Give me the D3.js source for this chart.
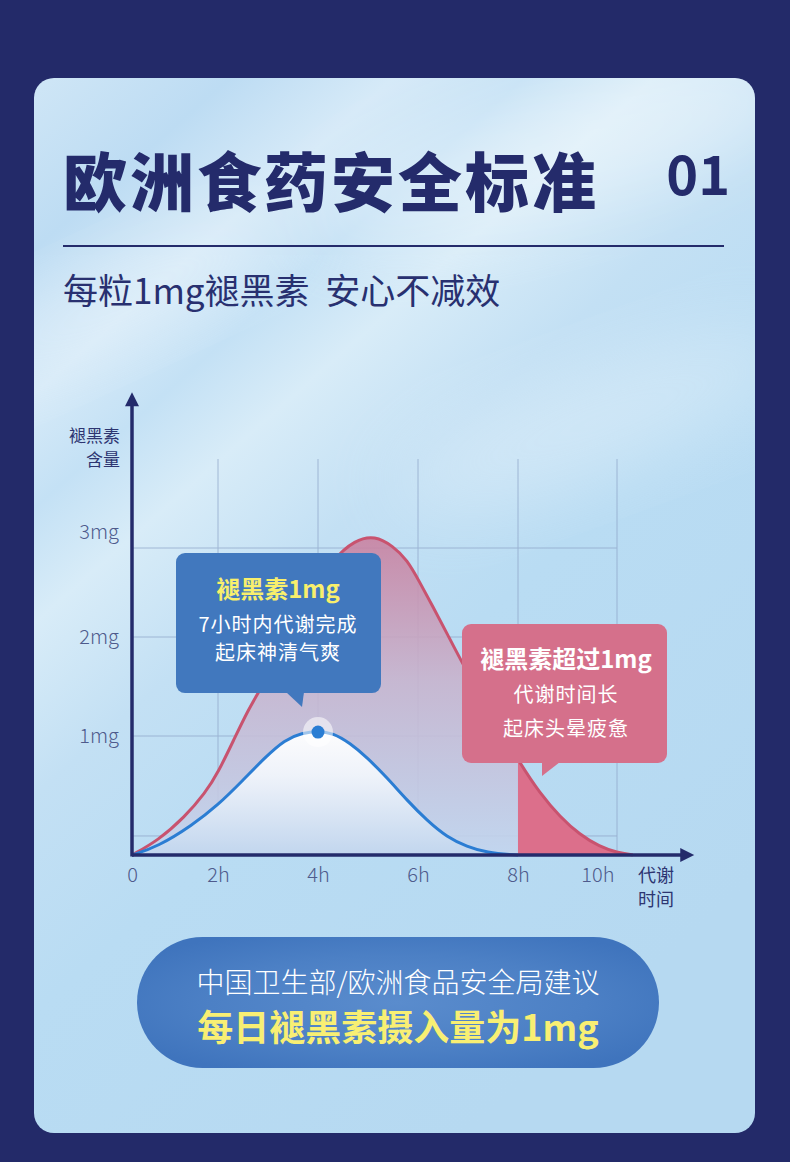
<!DOCTYPE html>
<html><head><meta charset="utf-8">
<script src="https://cdn.jsdelivr.net/npm/d3@7"></script>
<style>
html,body{margin:0;padding:0;background:#232a69;}
svg{display:block;}
text{font-family:"Noto Sans CJK SC","Noto Sans",sans-serif;}
</style>
</head><body>
<svg id="c" width="790" height="1162"></svg>
<script>
// ---------- data ----------
const titleText = "欧洲食药安全标准";
const pageNo = "01";
const subtitle = "每粒1mg褪黑素  安心不减效";
const yAxisTitle = ["褪黑素", "含量"];
const xAxisTitle = ["代谢", "时间"];
const xTickValues = [0, 2, 4, 6, 8, 10];
const xTickLabels = ["0", "2h", "4h", "6h", "8h", "10h"];
const yTickValues = [1, 2, 3];
const yTickLabels = ["1mg", "2mg", "3mg"];
const gridYValues = [0.16, 1, 2, 3];
const gridXValues = [2, 4, 6, 8, 10];
// 1mg dose curve
const hours1mg = [0, 0.6, 1.4, 2.0, 2.48, 2.94, 3.34, 3.68, 4.0, 4.3, 4.64, 4.98, 5.38, 5.78, 6.18, 6.58, 6.98, 7.38, 7.9, 8.0];
const mg1mg    = [0, 0.07, 0.25, 0.42, 0.62, 0.82, 0.97, 1.03, 1.05, 1.03, 0.94, 0.82, 0.65, 0.46, 0.29, 0.15, 0.07, 0.02, 0, 0];
// >1mg dose curve
const hoursHigh = [0, 0.6, 1.23, 1.7, 2.0, 2.34, 2.6, 2.8, 3.3, 3.8, 4.3, 4.74, 5.14, 5.5, 5.78, 6.04, 6.3, 6.58, 6.88, 7.44, 8.04, 8.44, 8.85, 9.25, 9.65, 10.0, 10.32];
const mgHigh    = [0, 0.12, 0.32, 0.52, 0.69, 0.99, 1.26, 1.43, 1.89, 2.42, 2.88, 3.09, 3.14, 3.02, 2.87, 2.61, 2.34, 2.04, 1.74, 1.24, 0.77, 0.52, 0.32, 0.17, 0.07, 0.02, 0];
const peakHour = 4, peakMg = 1.04;
const thresholdHour = 8;
const callout1 = ["褪黑素1mg", "7小时内代谢完成", "起床神清气爽"];
const callout2 = ["褪黑素超过1mg", "代谢时间长", "起床头晕疲惫"];
const footer = ["中国卫生部/欧洲食品安全局建议", "每日褪黑素摄入量为1mg"];

// ---------- setup ----------
const svg = d3.select("#c");
const defs = svg.append("defs");
const navy = "#242b6b";

// card background
const bg = defs.append("linearGradient").attr("id","bg").attr("x1","0").attr("y1","0").attr("x2","0.6").attr("y2","1");
[[0,"#cfe6f6"],[0.12,"#bddcf3"],[0.22,"#d6eaf8"],[0.3,"#c4e1f5"],[0.38,"#d8ecf8"],[0.5,"#c3e0f4"],[0.65,"#b9dcf3"],[1,"#b6d9f1"]]
  .forEach(s=>bg.append("stop").attr("offset",s[0]).attr("stop-color",s[1]));
const blur = defs.append("filter").attr("id","blur").attr("x","-50%").attr("y","-50%").attr("width","200%").attr("height","200%");
blur.append("feGaussianBlur").attr("stdDeviation",40);
const cardClip = defs.append("clipPath").attr("id","cardClip");
cardClip.append("rect").attr("x",34).attr("y",78).attr("width",721).attr("height",1055).attr("rx",20);

svg.append("rect").attr("width",790).attr("height",1162).attr("fill","#232a69");
const card = svg.append("g").attr("clip-path","url(#cardClip)");
card.append("rect").attr("x",34).attr("y",78).attr("width",721).attr("height",1055).attr("fill","url(#bg)");
card.append("ellipse").attr("cx",560).attr("cy",150).attr("rx",260).attr("ry",60).attr("fill","#ffffff").attr("opacity",0.35).attr("filter","url(#blur)").attr("transform","rotate(-15,560,150)");
card.append("ellipse").attr("cx",600).attr("cy",420).attr("rx",220).attr("ry",50).attr("fill","#ffffff").attr("opacity",0.3).attr("filter","url(#blur)").attr("transform","rotate(-20,600,420)");
card.append("ellipse").attr("cx",120).attr("cy",300).attr("rx",200).attr("ry",40).attr("fill","#ffffff").attr("opacity",0.25).attr("filter","url(#blur)").attr("transform","rotate(-25,120,300)");

// ---------- header ----------
svg.append("text").attr("x",63).attr("y",206).text(titleText)
  .attr("font-size",64).attr("font-weight",900).attr("fill",navy).attr("letter-spacing",3);
svg.append("text").attr("x",730).attr("y",195).attr("text-anchor","end").text(pageNo)
  .attr("font-size",54).attr("font-weight",700).attr("fill",navy).attr("font-family","'Noto Sans','Noto Sans CJK SC',sans-serif");
svg.append("line").attr("x1",63).attr("x2",724).attr("y1",246).attr("y2",246).attr("stroke",navy).attr("stroke-width",2);
svg.append("text").attr("x",63).attr("y",304).text(subtitle)
  .attr("font-size",35).attr("font-weight",400).attr("fill","#283070").style("white-space","pre");

// ---------- scales ----------
const x = d3.scaleLinear().domain([0,2,4,6,8,10]).range([132,218,318,418,518,617]);
const y = d3.scaleLinear().domain([0,1,2,3]).range([855,736,637,548]);
const xAxisEnd = 11.56, yAxisEnd = 4.75, gridTop = 4;

// grid
const grid = svg.append("g").attr("stroke","#8fa6c9").attr("stroke-width",1).attr("opacity",0.75);
grid.selectAll(".gy").data(gridYValues).join("line")
  .attr("x1",x(0)).attr("x2",x(10)).attr("y1",d=>y(d)).attr("y2",d=>y(d));
grid.selectAll(".gx").data(gridXValues).join("line")
  .attr("x1",d=>x(d)).attr("x2",d=>x(d)).attr("y1",y(gridTop)).attr("y2",y(0));

// gradients for areas
const gRed = defs.append("linearGradient").attr("id","gRed").attr("gradientUnits","userSpaceOnUse")
  .attr("x1",0).attr("y1",y(3.1)).attr("x2",0).attr("y2",y(0));
[[0,"#c9809f"],[0.45,"#c8b3cd"],[1,"#c3d5ee"]].forEach(s=>gRed.append("stop").attr("offset",s[0]).attr("stop-color",s[1]));
const gBlue = defs.append("linearGradient").attr("id","gBlue").attr("gradientUnits","userSpaceOnUse")
  .attr("x1",0).attr("y1",y(1.04)).attr("x2",0).attr("y2",y(0));
[[0,"#ffffff"],[0.35,"#f1f5fb"],[1,"#c2d6ee"]].forEach(s=>gBlue.append("stop").attr("offset",s[0]).attr("stop-color",s[1]));

const highData = hoursHigh.map((h,i)=>({h, v:mgHigh[i]}));
const lowData = hours1mg.map((h,i)=>({h, v:mg1mg[i]}));
const curve = d3.curveBasis;
const area = d3.area().x(d=>x(d.h)).y0(y(0)).y1(d=>y(d.v)).curve(curve);
const line = d3.line().x(d=>x(d.h)).y(d=>y(d.v)).curve(curve);

defs.append("clipPath").attr("id","leftClip").append("rect")
  .attr("x",x(0)-5).attr("y",0).attr("width",x(thresholdHour)-x(0)+5).attr("height",1162);
defs.append("clipPath").attr("id","rightClip").append("rect")
  .attr("x",x(thresholdHour)).attr("y",0).attr("width",400).attr("height",1162);

svg.append("path").datum(highData).attr("d",area).attr("fill","url(#gRed)").attr("opacity",0.88).attr("clip-path","url(#leftClip)");
svg.append("path").datum(highData).attr("d",area).attr("fill","#dc6f8b").attr("clip-path","url(#rightClip)");
svg.append("path").datum(lowData).attr("d",area).attr("fill","url(#gBlue)").attr("opacity",0.95);
svg.append("path").datum(highData).attr("d",line).attr("fill","none").attr("stroke","#c8536f").attr("stroke-width",3);
svg.append("path").datum(lowData).attr("d",line).attr("fill","none").attr("stroke","#2b7dd3").attr("stroke-width",3);

// axes
const axisG = svg.append("g");
axisG.append("line").attr("x1",x(0)).attr("x2",x(xAxisEnd)-8).attr("y1",y(0)).attr("y2",y(0)).attr("stroke",navy).attr("stroke-width",3.5);
axisG.append("line").attr("x1",x(0)).attr("x2",x(0)).attr("y1",y(0)+1.5).attr("y2",y(yAxisEnd)+8).attr("stroke",navy).attr("stroke-width",3.5);
axisG.append("path").attr("fill",navy)
  .attr("d",`M${x(xAxisEnd)},${y(0)} L${x(xAxisEnd)-14},${y(0)-7} L${x(xAxisEnd)-14},${y(0)+7}Z`);
axisG.append("path").attr("fill",navy)
  .attr("d",`M${x(0)},${y(yAxisEnd)} L${x(0)-7},${y(yAxisEnd)+14} L${x(0)+7},${y(yAxisEnd)+14}Z`);

const lastX = xTickValues[xTickValues.length-1];
const xAx = svg.append("g").attr("transform",`translate(0,${y(0)})`)
  .call(d3.axisBottom(x).tickValues(xTickValues).tickFormat((d,i)=>xTickLabels[i]).tickSize(0).tickPadding(13));
xAx.select(".domain").remove();
xAx.selectAll("text").attr("font-size",20).attr("fill","#4e5a8c").attr("font-weight",300)
  .attr("font-family","'Noto Sans CJK SC',sans-serif")
  .attr("text-anchor",d=>d===lastX?"end":"middle").attr("dx",d=>d===lastX?-3:0);
const lastY = yTickValues[yTickValues.length-1];
const yAx = svg.append("g").attr("transform",`translate(${x(0)},0)`)
  .call(d3.axisLeft(y).tickValues(yTickValues).tickFormat((d,i)=>yTickLabels[i]).tickSize(0).tickPadding(13));
yAx.select(".domain").remove();
yAx.selectAll("text").attr("font-size",20).attr("fill","#4e5a8c").attr("font-weight",300)
  .attr("font-family","'Noto Sans CJK SC',sans-serif")
  .attr("dy",d=>d===lastY?"-0.5em":"0.32em");

svg.selectAll(".ytitle").data(yAxisTitle).join("text")
  .attr("x",x(0)-12).attr("y",(d,i)=>y(yAxisEnd)+42+i*24).attr("text-anchor","end")
  .attr("dominant-baseline","central").attr("font-size",17).attr("fill","#2d3571").text(d=>d);
svg.selectAll(".xtitle").data(xAxisTitle).join("text")
  .attr("x",x(10)+21).attr("y",(d,i)=>y(0)+19+i*24).attr("dominant-baseline","central")
  .attr("font-size",18).attr("fill","#2d3571").text(d=>d);

// peak marker
const px = x(peakHour), py = y(peakMg);
svg.append("circle").attr("cx",px).attr("cy",py).attr("r",15).attr("fill","#ffffff").attr("opacity",0.55);
svg.append("circle").attr("cx",px).attr("cy",py).attr("r",6.5).attr("fill","#2a7dd3");

// callout 1 (blue)
const c1 = svg.append("g").attr("transform",`translate(${px-142},${py-179})`);
c1.append("rect").attr("width",205).attr("height",140).attr("rx",9).attr("fill","#4178be");
c1.append("path").attr("d","M110,139 L128,139 L126,154 Z").attr("fill","#4178be");
c1.append("text").attr("x",102).attr("y",34).attr("text-anchor","middle").attr("dominant-baseline","central")
  .attr("font-size",24).attr("font-weight",700).attr("fill","#f8ef6c").text(callout1[0]);
c1.selectAll(".l").data(callout1.slice(1)).join("text")
  .attr("x",102).attr("y",(d,i)=>70+i*28).attr("text-anchor","middle").attr("dominant-baseline","central")
  .attr("font-size",20).attr("letter-spacing",1).attr("fill","#ffffff").text(d=>d);

// callout 2 (pink)
const c2 = svg.append("g").attr("transform",`translate(${x(thresholdHour)-56},${y(1)-112})`);
c2.append("rect").attr("width",205).attr("height",139).attr("rx",9).attr("fill","#d5708b");
c2.append("path").attr("d","M80,138 L98,138 L80,152 Z").attr("fill","#d5708b");
c2.append("text").attr("x",104).attr("y",33).attr("text-anchor","middle").attr("dominant-baseline","central")
  .attr("font-size",24).attr("font-weight",700).attr("fill","#ffffff").text(callout2[0]);
c2.selectAll(".l").data(callout2.slice(1)).join("text")
  .attr("x",104).attr("y",(d,i)=>69+i*34).attr("text-anchor","middle").attr("dominant-baseline","central")
  .attr("font-size",20).attr("letter-spacing",1).attr("fill","#ffffff").text(d=>d);

// footer pill
const pg = defs.append("radialGradient").attr("id","pill").attr("cx","0.5").attr("cy","0.5").attr("r","0.6");
[[0,"#5a8ccd"],[0.6,"#4c80c5"],[1,"#3f74bd"]].forEach(s=>pg.append("stop").attr("offset",s[0]).attr("stop-color",s[1]));
svg.append("rect").attr("x",137).attr("y",937).attr("width",522).attr("height",131).attr("rx",65.5).attr("fill","url(#pill)");
svg.append("text").attr("x",398).attr("y",981).attr("text-anchor","middle").attr("dominant-baseline","central")
  .attr("font-size",28).attr("font-weight",300).attr("fill","#ffffff").text(footer[0]);
svg.append("text").attr("x",398).attr("y",1025).attr("text-anchor","middle").attr("dominant-baseline","central")
  .attr("font-size",36).attr("font-weight",700).attr("fill","#f8ef73").text(footer[1]);
</script>
</body></html>
